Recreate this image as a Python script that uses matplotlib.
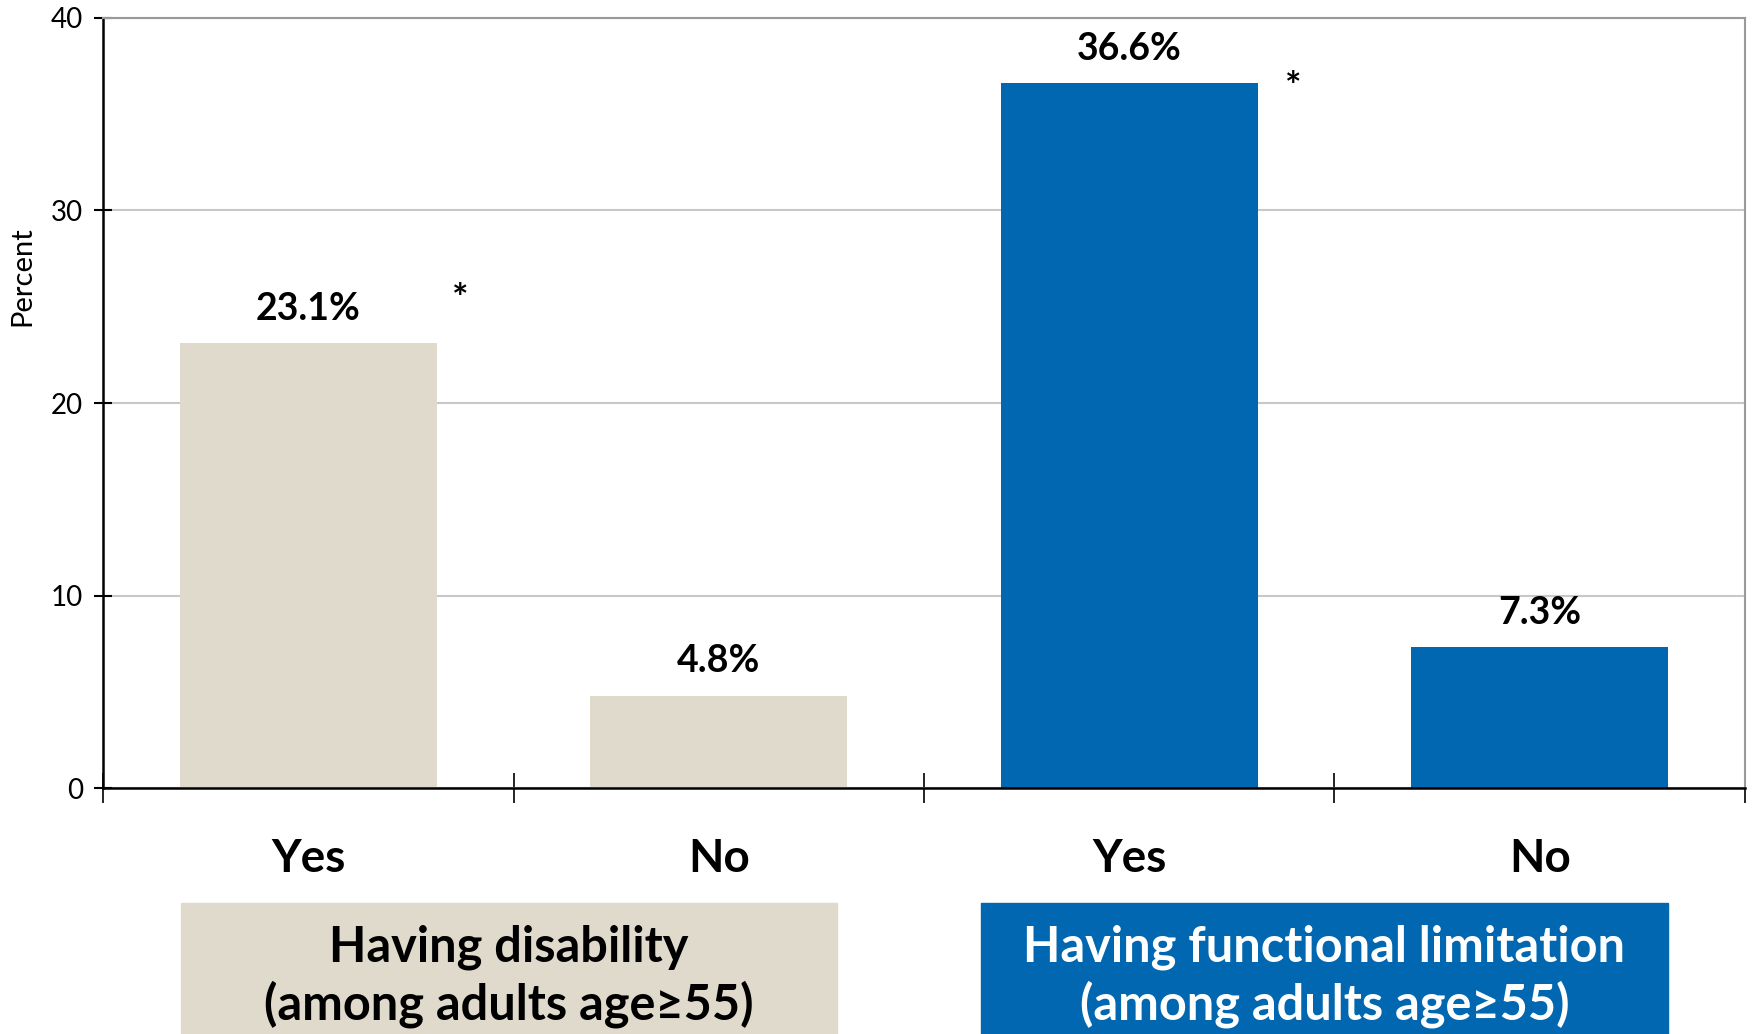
import matplotlib
matplotlib.use("Agg")
import matplotlib.pyplot as plt
from matplotlib.patches import Rectangle
import matplotlib.transforms as mtransforms

categories = ["Yes", "No", "Yes", "No"]
values = [23.1, 4.8, 36.6, 7.3]
value_labels = ["23.1%", "4.8%", "36.6%", "7.3%"]
groups = ["Having disability\n(among adults age\u226555)",
          "Having functional limitation\n(among adults age\u226555)"]
yticks = [0, 10, 20, 30, 40]

beige = "#DFDACB"
blue = "#0067B0"
bar_colors = [beige, beige, blue, blue]

plt.rcParams['font.family'] = ['Lato', 'DejaVu Sans']

fig = plt.figure(figsize=(17.52, 10.34), dpi=100)
ax = fig.add_axes([0.0588, 0.2379, 0.9372, 0.7447])

x = list(range(len(values)))
ax.bar(x, values, width=0.625, color=bar_colors, zorder=2)

ax.set_xlim(-0.5, 3.5)
ax.set_ylim(0, 40)
ax.set_yticks(yticks)
ax.set_yticklabels([str(t) for t in yticks], fontsize=20)
ax.yaxis.grid(True, color="#C8C8C8", linewidth=1.5, zorder=0)
ax.set_axisbelow(True)
ax.tick_params(axis='y', direction='inout', length=13, width=1.5, pad=8)

ax.set_xticks([-0.5, 0.5, 1.5, 2.5, 3.5])
ax.set_xticklabels([])
ax.tick_params(axis='x', which='major', direction='inout', length=22, width=1.2)
ax.set_xticks(x, minor=True)
ax.set_xticklabels(categories, minor=True, fontsize=33, fontweight='bold')
ax.tick_params(axis='x', which='minor', length=0, pad=36)

for s in ['left', 'bottom']:
    ax.spines[s].set_color('black')
    ax.spines[s].set_linewidth(1.8)
for s in ['top', 'right']:
    ax.spines[s].set_color('#999999')
    ax.spines[s].set_linewidth(1.5)

ax.set_ylabel("Percent", fontsize=21, va='center')
ax.yaxis.set_label_coords(-0.049, 0.665)

for xi, v, lab in zip(x, values, value_labels):
    ax.text(xi, v + 1.8, lab, ha='center', va='center', fontsize=27, fontweight='bold')

ax.text(0.37, 25.4, "*", ha='center', va='center', fontsize=28, fontweight='bold')
ax.text(2.40, 36.4, "*", ha='center', va='center', fontsize=28, fontweight='bold')

trans = mtransforms.blended_transform_factory(ax.transData, fig.transFigure)
box_spans = [(-0.31, 1.288), (1.639, 3.312)]
box_colors = [beige, blue]
text_colors = ['black', 'white']
for (x0, x1), bc, tc, g in zip(box_spans, box_colors, text_colors, groups):
    r = Rectangle((x0, 0.0), x1 - x0, 0.127, transform=trans, color=bc,
                  clip_on=False, zorder=1)
    fig.add_artist(r)
    t = fig.text(0, 0, g, ha='center', va='center',
                 fontsize=35, fontweight='bold', color=tc, linespacing=1.28,
                 zorder=5)
    t.set_transform(trans)
    t.set_position(((x0 + x1) / 2, 0.056))

fig.savefig("out.png", dpi=100)
